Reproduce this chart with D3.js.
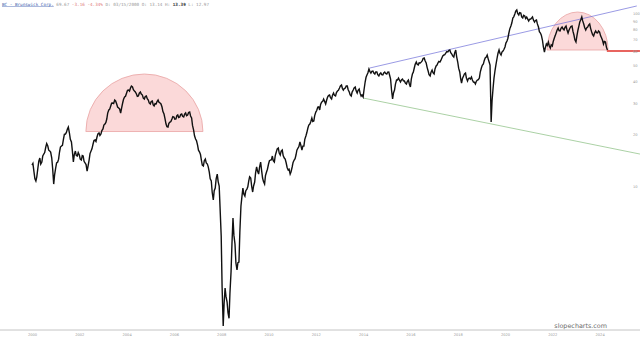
<!DOCTYPE html>
<html>
<head>
<meta charset="utf-8">
<script src="https://cdnjs.cloudflare.com/ajax/libs/d3/7.8.5/d3.min.js"></script>
<style>
body{margin:0;background:#fff;}
svg{display:block;}
</style>
</head>
<body>
<div id="graph"></div>
<script>
var width=640;
var height=341;

// month-start closes, first one is Jan 2000
var startDate=new Date(2000,0,1);
var close2000s=[
	13.22,12.04,10.68,12.71,14.51,13.76,15.31,16.80,17.03,15.93,14.51,10.26,
	12.71,13.76,15.72,17.03,18.69,19.97,21.35,20.24,17.96,13.76,15.93,14.90,
	15.10,14.13,14.90,13.58,12.20,14.13,15.93,17.49,18.44,19.19,20.24,19.97,
	21.35,22.82,24.39,27.50,29.00,30.18,31.41,29.78,28.24,26.42,30.18,32.68,
	34.47,35.87,36.84,37.34,35.40,34.01,33.12,34.93,33.56,31.83,33.12,31.41,
	29.78,30.99,29.00,29.78,31.41,30.18,28.61,26.07,22.82,21.92,23.43,24.39,
	25.05,24.39,25.73,25.05,26.07,25.05,26.42,25.73,26.77,24.71,21.06,18.69,
	17.25,15.72,14.13,13.05,14.32,13.40,12.04,10.68,8.30,9.73,11.72,10.00,
	5.14,1.55,2.57,2.13,1.72,3.18,6.53,4.62,3.27,3.63,7.66,9.73,
	8.75,9.60,10.68,11.12,9.23,10.54,12.88,11.72,13.76,11.12,10.26,12.04
];
var close2010s=[
	13.40,14.13,14.90,13.76,15.72,16.58,15.10,16.14,14.51,13.58,12.36,11.72,
	12.88,14.13,15.10,16.58,17.96,16.14,17.03,19.45,21.63,22.82,24.71,23.74,
	26.77,28.61,27.50,30.58,31.83,29.78,32.68,33.56,31.83,34.47,33.12,35.40,
	36.84,38.35,35.87,36.84,37.84,34.93,33.12,35.87,37.34,34.47,36.36,33.12,
	32.68,39.91,43.81,47.45,44.99,46.20,44.40,45.59,43.23,44.99,43.81,45.59,
	44.40,45.59,41.53,31.83,35.87,40.98,42.09,39.91,41.53,40.44,38.86,40.98,
	37.34,44.40,48.09,52.09,50.05,51.40,52.79,54.94,51.40,46.20,43.23,46.82,
	44.40,49.39,51.40,52.09,54.94,57.18,58.72,59.51,61.11,57.94,55.67,61.11,
	52.09,45.59,39.38,43.23,44.99,40.44,42.09,42.66,39.91,38.86,40.98,42.09,
	48.09,50.72,54.94,57.18,52.09,23.43,36.84,46.82,54.94,61.11,57.18,60.30
];
var close2020s=[
	63.60,68.89,76.63,84.11,93.56,98.68,104.07,97.37,100.00,93.56,96.09,94.81,
	89.90,92.32,94.81,88.71,91.10,83.00,76.63,69.81,59.51,66.19,67.98,62.76,
	64.45,71.69,76.63,81.91,78.70,83.00,79.75,84.11,76.63,81.91,84.11,74.62,
	67.98,79.75,88.71,94.81,86.38,79.75,83.00,86.38,77.66,73.63,78.70,76.63,
	77.66,71.70,66.19,67.98,61.11
];
// mid-month closes (15th of each month)
var mid2000s=[
	13.5,11.0,11.3,13.9,13.4,14.9,15.6,17.6,16.1,15.7,12.6,11.6,
	13.6,14.3,16.8,17.2,19.9,20.4,21.9,18.6,16.0,15.2,15.0,15.6,
	14.3,15.0,13.9,13.3,13.0,15.4,16.4,18.3,18.1,20.0,19.6,20.9,
	22.5,23.3,26.4,27.8,30.1,30.0,31.0,28.6,27.9,28.1,31.7,33.0,
	35.7,35.4,37.8,36.0,35.0,33.0,34.4,34.0,32.2,32.9,32.0,30.2,
	30.8,29.4,29.9,30.8,30.5,29.8,26.9,24.6,22.0,23.0,23.6,25.2,
	24.3,25.5,24.9,25.9,25.3,26.0,25.5,26.6,25.4,22.4,19.5,18.3,
	16.1,15.2,13.2,14.0,13.6,12.9,11.0,9.2,9.4,11.0,10.6,7.4,
	2.6,2.1,2.3,1.85,2.4,4.6,5.2,3.6,3.6,5.4,8.6,9.0,
	9.4,9.9,11.3,10.0,10.0,11.9,12.2,12.8,12.4,10.6,11.5,12.5
];
var mid2010s=[
	14.0,14.2,14.0,15.0,16.4,15.5,15.9,15.0,14.3,12.8,12.5,12.1,
	13.7,14.4,16.1,16.9,17.2,17.0,18.6,20.3,22.5,23.5,23.6,25.5,
	27.3,28.7,29.6,30.8,30.9,31.2,33.3,32.4,33.5,33.4,34.7,35.7,
	37.9,36.6,36.6,37.9,36.0,33.6,34.9,36.9,35.5,35.7,34.4,33.6,
	36.0,42.5,45.0,46.0,46.0,45.0,45.6,44.0,44.4,44.0,45.0,44.7,
	45.5,43.5,36.0,34.5,38.8,41.0,41.0,41.0,40.5,39.4,40.3,39.0,
	41.5,45.5,50.5,50.5,51.5,52.0,54.5,53.0,48.5,44.0,45.5,45.2,
	47.5,50.0,52.5,53.2,56.5,57.4,59.8,60.6,59.0,56.5,58.8,56.0,
	48.0,41.8,41.8,44.5,42.0,41.8,41.5,41.0,39.8,40.3,41.2,45.5,
	49.8,53.2,55.5,54.5,50.0,31.0,42.0,50.5,58.5,58.5,59.5,61.5
];
var mid2020s=[
	67.0,71.5,81.0,87.5,95.0,102.5,99.5,100.5,95.0,97.0,93.0,92.5,
	92.0,93.5,91.0,90.5,86.5,78.0,74.5,64.0,63.0,65.0,64.5,65.5,
	68.5,74.0,79.5,79.0,81.5,81.0,82.5,80.0,79.5,83.5,78.5,70.0,
	73.5,84.0,91.0,90.0,82.5,82.0,85.0,81.5,75.0,76.5,77.0,78.8,
	74.0,69.5,68.5,63.5
];

var yearTicks=[2000,2002,2004,2006,2008,2010,2012,2014,2016,2018,2020,2022,2024];
var priceTicks=[10,20,30,40,50,60,70,80,90,100];

// drawn annotations: [start, end, base price, top price]
var domeLeft=[new Date(2002,3,12),new Date(2007,2,25),20.65,44.4];
var domeRight=[new Date(2021,9,12),new Date(2024,4,11),61.1,101.3];
// trend lines: [date, price, date, price]
var upperTrend=[new Date(2014,3,15),48.1,new Date(2025,6,28),109.8];
var lowerTrend=[new Date(2014,0,1),32.25,new Date(2025,8,15),15.3];
var supportLine=[new Date(2024,3,22),60.3,new Date(2025,8,15),60.3];

var closes=close2000s.concat(close2010s,close2020s);
var mids=mid2000s.concat(mid2010s,mid2020s);
var dataset=[];
closes.forEach(function(c,i){
	var m=d3.timeMonth.offset(startDate,i);
	dataset.push({date:m,close:c});
	if(i<mids.length){
		dataset.push({date:new Date(m.getFullYear(),m.getMonth(),15),close:mids[i]});
	}
});

var svg=d3.select('#graph').append('svg')
	.attr('width',width).attr('height',height);

var x=d3.scaleTime().domain([new Date(2000,0,1),new Date(2024,0,1)]).range([32,599.6]);
var y=d3.scaleLog().domain([10,100]).range([186,13]);

function dome(d){
	var x0=x(d[0]),x1=x(d[1]),yb=y(d[2]),yt=y(d[3]);
	var rx=(x1-x0)/2,ry=yb-yt;
	return 'M'+x0+','+yb+'A'+rx+','+ry+' 0 0 1 '+x1+','+yb+'Z';
}
svg.selectAll('path.dome').data([domeLeft,domeRight]).enter().append('path')
	.attr('class','dome')
	.attr('d',dome)
	.attr('fill','#fbd9d9')
	.attr('stroke','#e9a3a3')
	.attr('stroke-width',0.8);

function seg(d,color,w){
	svg.append('line')
		.attr('x1',x(d[0])).attr('y1',y(d[1]))
		.attr('x2',x(d[2])).attr('y2',y(d[3]))
		.attr('stroke',color).attr('stroke-width',w);
}
seg(upperTrend,'#6f6fd8',0.7);
seg(lowerTrend,'#86bd7e',0.7);

var line=d3.line()
	.x(function(d){return x(d.date);})
	.y(function(d){return y(d.close);});
svg.append('path').datum(dataset)
	.attr('d',line)
	.attr('fill','none')
	.attr('stroke','#111')
	.attr('stroke-width',1.4)
	.attr('stroke-linejoin','miter');

seg(supportLine,'#e0302a',1.4);

// bottom axis
svg.append('line').attr('x1',0).attr('x2',width).attr('y1',330).attr('y2',330)
	.attr('stroke','#b5b5b5').attr('stroke-width',0.8);
var xAxis=d3.axisBottom(x)
	.tickValues(yearTicks.map(function(yr){return new Date(yr,0,1);}))
	.tickFormat(d3.timeFormat('%Y')).tickSize(0).tickPadding(3);
var gx=svg.append('g').attr('transform','translate(0,330)').call(xAxis);
gx.select('.domain').remove();
gx.selectAll('text').attr('fill','#999').style('font-size','3.6px').style('font-family','DejaVu Sans');

// right axis
var yAxis=d3.axisRight(y).tickValues(priceTicks).tickFormat(d3.format('d')).tickSize(0).tickPadding(0);
var gy=svg.append('g').attr('transform','translate(633,0)').call(yAxis);
gy.select('.domain').remove();
gy.selectAll('text').attr('fill','#999').style('font-size','3.6px').style('font-family','DejaVu Sans');

// header
var header=svg.append('text').attr('x',2).attr('y',5.5)
	.style('font-family','DejaVu Sans Mono').style('font-size','4.3px');
header.append('tspan').text('BC - Brunswick Corp.').attr('fill','#3b5cae').style('text-decoration','underline');
header.append('tspan').text(' 69.67').attr('fill','#999');
header.append('tspan').text(' -3.16 -4.34%').attr('fill','#e07a7a');
header.append('tspan').text(' D: 03/15/2000 O: 13.14 H: ').attr('fill','#999');
header.append('tspan').text('13.39').attr('fill','#333').style('font-weight','bold');
header.append('tspan').text(' L: 12.97').attr('fill','#999');

// watermark
svg.append('text').attr('x',607).attr('y',327.5).attr('text-anchor','end')
	.style('font-family','DejaVu Sans').style('font-size','6.4px')
	.attr('fill','#6a6a6a').text('slopecharts.com');
</script>
</body>
</html>
